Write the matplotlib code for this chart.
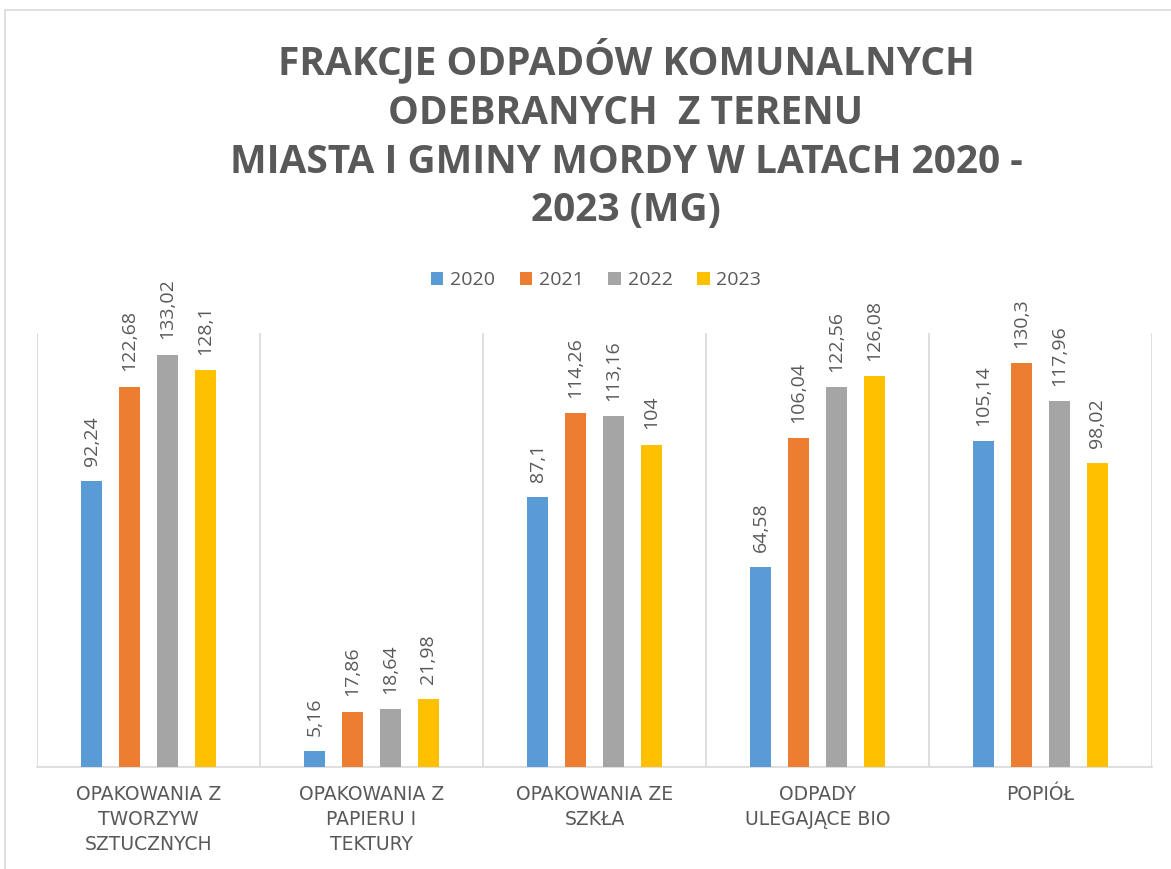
import matplotlib
matplotlib.use("Agg")
import matplotlib.pyplot as plt
import numpy as np
from matplotlib.patches import Rectangle

categories = ["OPAKOWANIA Z\nTWORZYW\nSZTUCZNYCH", "OPAKOWANIA Z\nPAPIERU I\nTEKTURY",
              "OPAKOWANIA ZE\nSZKŁA", "ODPADY\nULEGAJĄCE BIO", "POPIÓŁ"]
years = ["2020", "2021", "2022", "2023"]
v2020 = [92.24, 5.16, 87.1, 64.58, 105.14]
v2021 = [122.68, 17.86, 114.26, 106.04, 130.3]
v2022 = [133.02, 18.64, 113.16, 122.56, 117.96]
v2023 = [128.1, 21.98, 104, 126.08, 98.02]
series = [v2020, v2021, v2022, v2023]
colors = ["#5B9BD5", "#ED7D31", "#A5A5A5", "#FFC000"]
title = "FRAKCJE ODPADÓW KOMUNALNYCH\nODEBRANYCH  Z TERENU\nMIASTA I GMINY MORDY W LATACH 2020 -\n2023 (MG)"

W, H = 1171, 869
fig = plt.figure(figsize=(W/100, H/100), dpi=100)
# chart border
fig.patches.append(Rectangle((5/W, -0.01), 1.2, (H-10)/H + 0.01, transform=fig.transFigure,
                             fill=False, edgecolor="#d9d9d9", linewidth=1.2))

ax = fig.add_axes([37/W, 102/H, (1152-37)/W, (767-333)/H])
x = np.arange(len(categories))
step = 0.17
bw = 0.094
txtc = "#595959"
for i, (vals, c, y) in enumerate(zip(series, colors, years)):
    pos = x + (i - 1.5) * step
    bars = ax.bar(pos, vals, width=bw, color=c, label=y, zorder=3)
    for b, v in zip(bars, vals):
        lab = ("%g" % v).replace(".", ",")
        ax.annotate(lab, (b.get_x() + b.get_width()/2, v), xytext=(0, 11),
                    textcoords="offset points", rotation=90, ha="center", va="bottom",
                    fontsize=14, color=txtc, fontfamily="Open Sans")

ax.set_xlim(-0.5, len(categories) - 0.5)
ax.set_ylim(0, 140)
ax.set_yticks([])
for xv in np.arange(-0.5, len(categories), 1.0):
    ax.axvline(xv, color="#d9d9d9", linewidth=1.2, zorder=1)
for s in ["top", "right", "left"]:
    ax.spines[s].set_visible(False)
ax.spines["bottom"].set_color("#d9d9d9")
ax.spines["bottom"].set_linewidth(1.2)
ax.set_xticks(x)
ax.set_xticklabels(categories, fontsize=13.5, color=txtc, linespacing=1.4, fontfamily="DejaVu Sans")
ax.tick_params(axis="x", length=0, pad=13)

fig.text(626/W, 1 - 38/H, title, ha="center", va="top", fontsize=28, fontweight="bold",
         color=txtc, fontfamily="Open Sans", linespacing=1.33)

fig.legend(loc="center", bbox_to_anchor=(596/W, 1 - 280/H), ncol=4, frameon=False,
           prop={"family": "Open Sans", "size": 14}, labelcolor=txtc,
           handlelength=0.65, handleheight=0.65, handletextpad=0.35, columnspacing=1.25)

fig.savefig("out.png", dpi=100, facecolor="white")
